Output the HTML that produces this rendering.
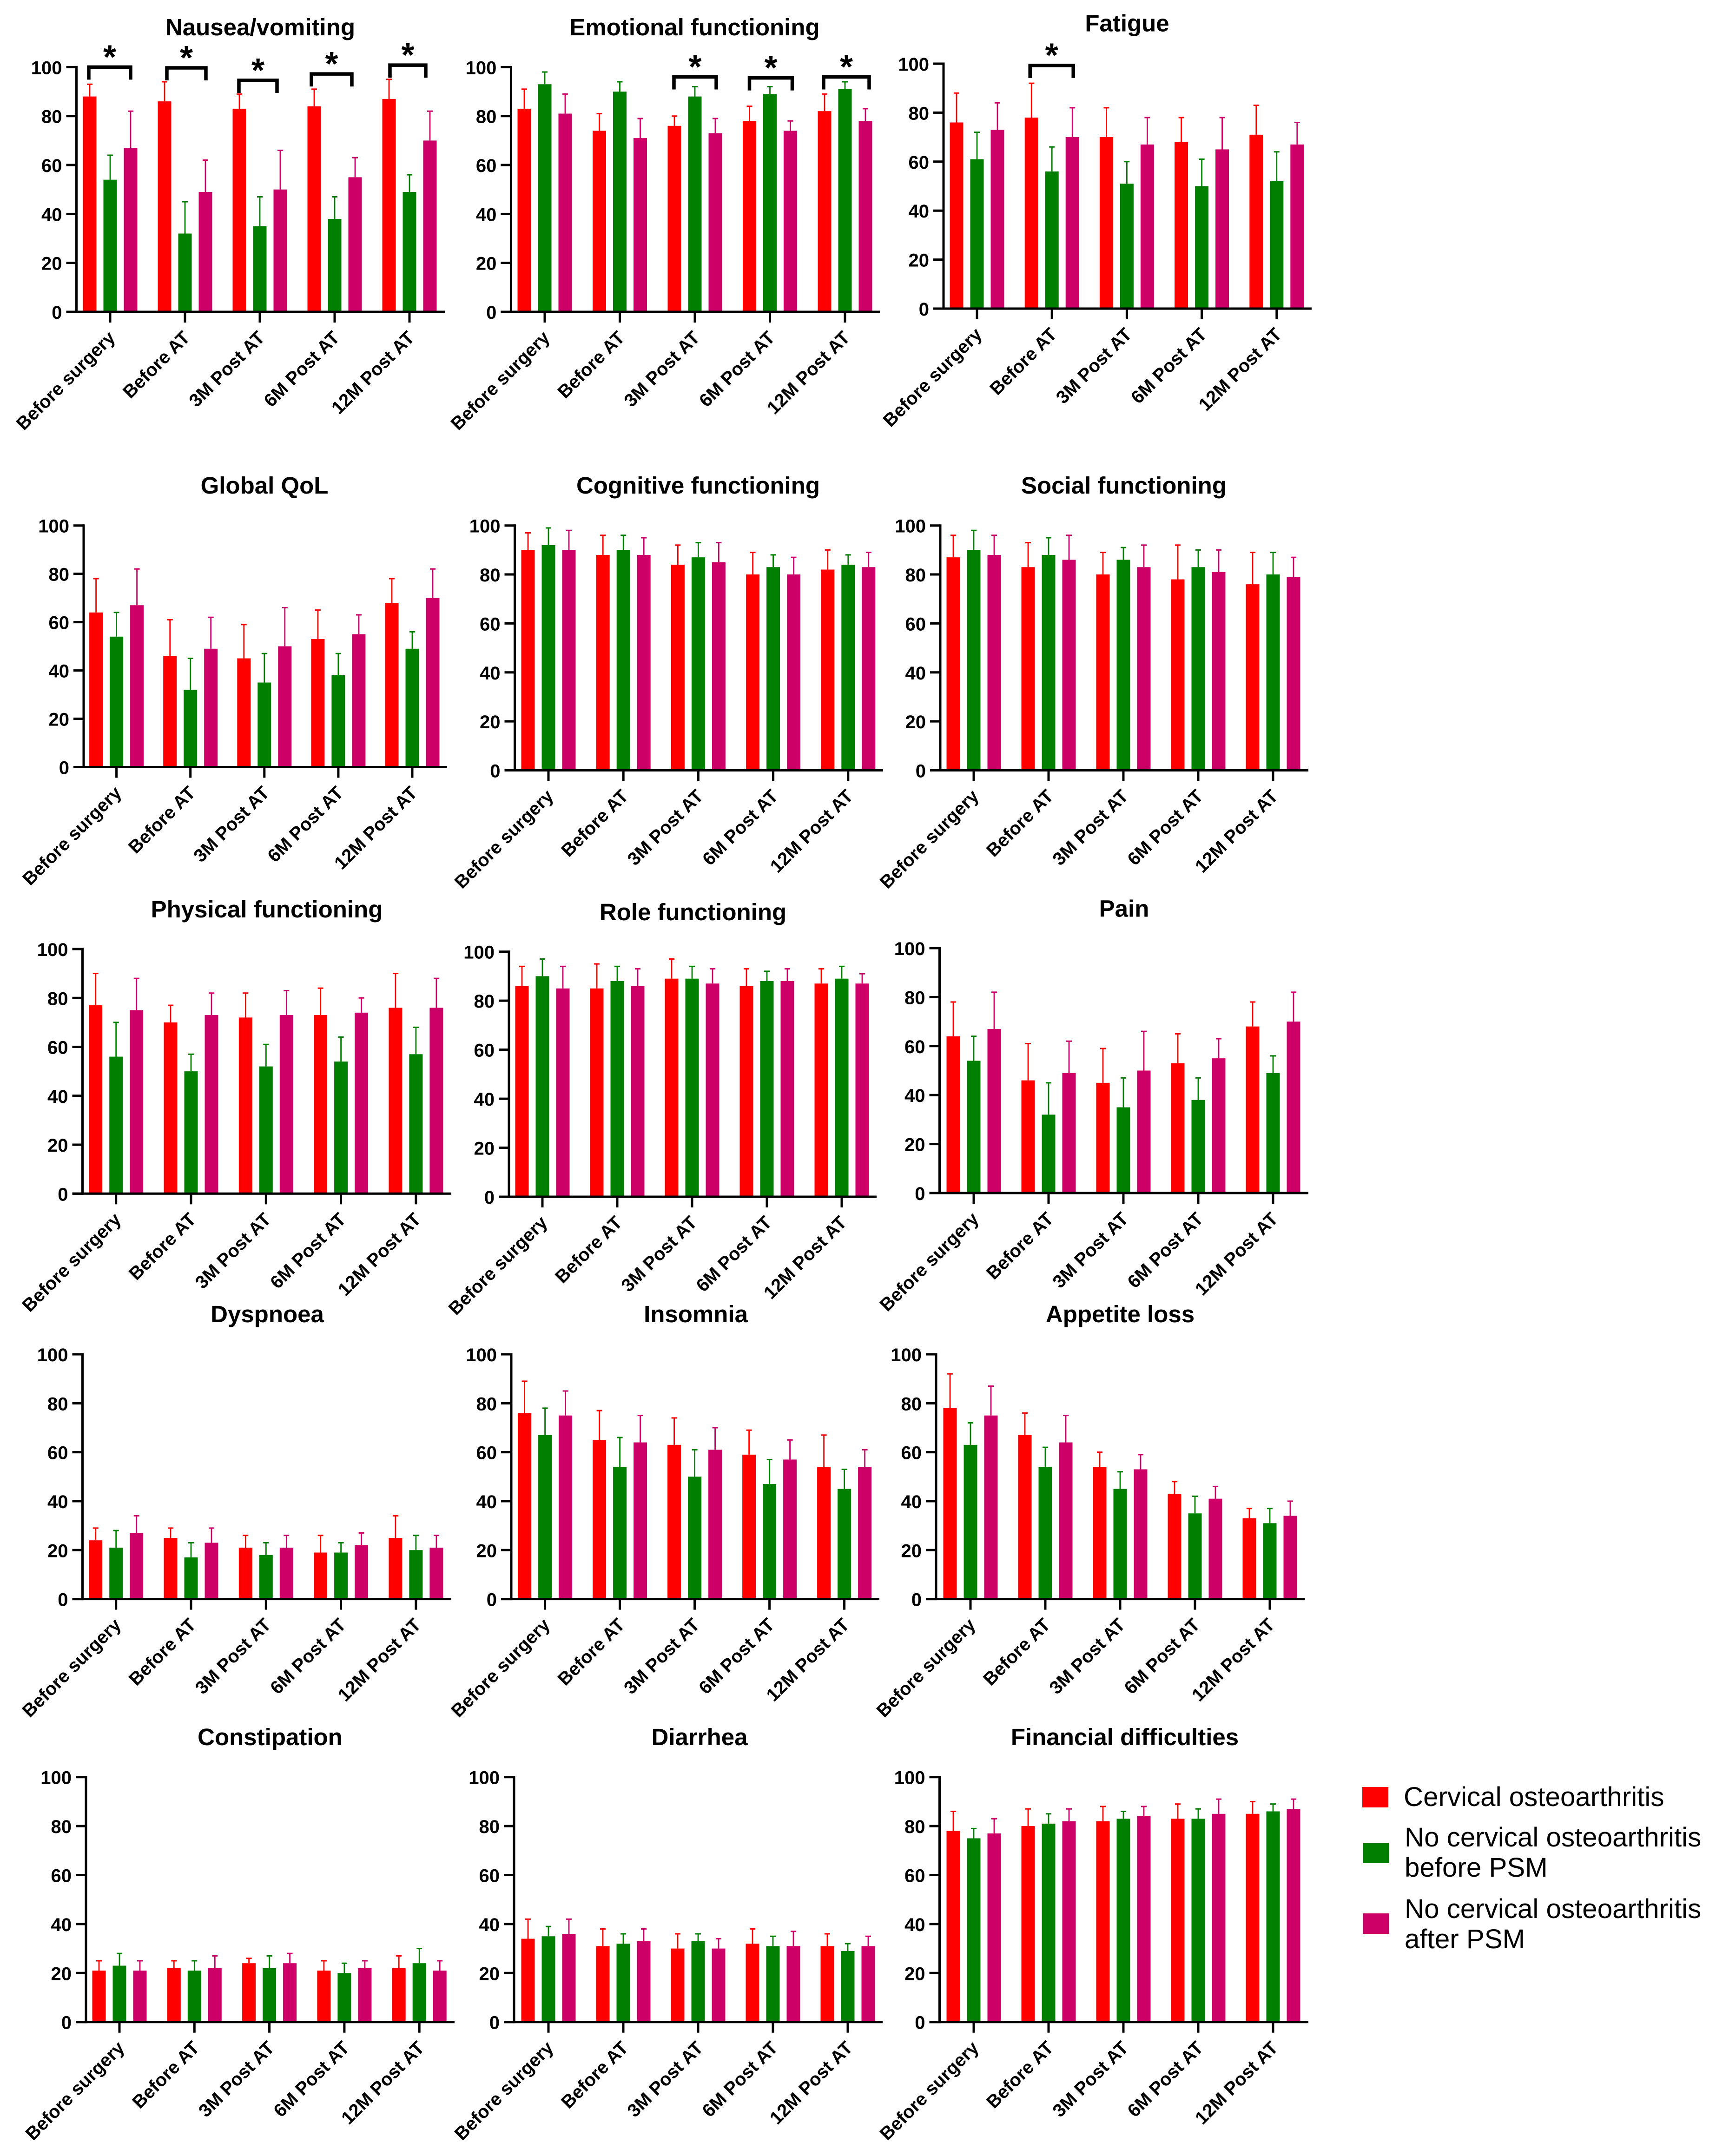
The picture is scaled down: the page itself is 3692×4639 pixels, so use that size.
<!DOCTYPE html>
<html lang="en">
<head>
<meta charset="utf-8">
<title>Quality of life scores by timepoint</title>
<style>
html,body{margin:0;padding:0;background:#fff;}
svg{display:block;}
text{font-family:"Liberation Sans",sans-serif;fill:#000;}
</style>
</head>
<body>
<svg id="figure" xmlns="http://www.w3.org/2000/svg" width="3692" height="4639" viewBox="0 0 3692 4639">
<rect x="0" y="0" width="3692" height="4639" fill="#ffffff"/>
<g>
<rect x="2931" y="3845" width="56" height="44" fill="#ff0000"/>
<text x="3020" y="3886" font-size="58.3">Cervical osteoarthritis</text>
<rect x="2932.5" y="3965" width="56" height="44" fill="#007f00"/>
<text x="3022" y="3973" font-size="58.3">No cervical osteoarthritis<tspan x="3022" y="4038">before PSM</tspan></text>
<rect x="2932.5" y="4117" width="56" height="44" fill="#cc0066"/>
<text x="3022" y="4127" font-size="58.3">No cervical osteoarthritis<tspan x="3022" y="4192">after PSM</tspan></text>
</g>
</svg>
<script>
const categories = ["Before surgery", "Before AT", "3M Post AT", "6M Post AT", "12M Post AT"];
const yTickValues = [0, 20, 40, 60, 80, 100];
const seriesColors = ["#ff0000", "#007f00", "#cc0066"];
const seriesKeys = ["cervical-oa", "no-oa-before-psm", "no-oa-after-psm"];

const nauseaCervical = [88, 86, 83, 84, 87];
const nauseaCervicalUpper = [93, 94, 89, 91, 95];
const nauseaBefore = [54, 32, 35, 38, 49];
const nauseaBeforeUpper = [64, 45, 47, 47, 56];
const nauseaAfter = [67, 49, 50, 55, 70];
const nauseaAfterUpper = [82, 62, 66, 63, 82];
const nauseaSigGroups = [0, 1, 2, 3, 4];
const nauseaSigLevels = [100, 99.7, 94.6, 97.2, 100.8];

const emotionalCervical = [83, 74, 76, 78, 82];
const emotionalCervicalUpper = [91, 81, 80, 84, 89];
const emotionalBefore = [93, 90, 88, 89, 91];
const emotionalBeforeUpper = [98, 94, 92, 92, 94];
const emotionalAfter = [81, 71, 73, 74, 78];
const emotionalAfterUpper = [89, 79, 79, 78, 83];
const emotionalSigGroups = [2, 3, 4];
const emotionalSigLevels = [96, 95.6, 96];

const fatigueCervical = [76, 78, 70, 68, 71];
const fatigueCervicalUpper = [88, 92, 82, 78, 83];
const fatigueBefore = [61, 56, 51, 50, 52];
const fatigueBeforeUpper = [72, 66, 60, 61, 64];
const fatigueAfter = [73, 70, 67, 65, 67];
const fatigueAfterUpper = [84, 82, 78, 78, 76];
const fatigueSigGroups = [1];
const fatigueSigLevels = [99.3];

const globalCervical = [64, 46, 45, 53, 68];
const globalCervicalUpper = [78, 61, 59, 65, 78];
const globalBefore = [54, 32, 35, 38, 49];
const globalBeforeUpper = [64, 45, 47, 47, 56];
const globalAfter = [67, 49, 50, 55, 70];
const globalAfterUpper = [82, 62, 66, 63, 82];

const cognitiveCervical = [90, 88, 84, 80, 82];
const cognitiveCervicalUpper = [97, 96, 92, 89, 90];
const cognitiveBefore = [92, 90, 87, 83, 84];
const cognitiveBeforeUpper = [99, 96, 93, 88, 88];
const cognitiveAfter = [90, 88, 85, 80, 83];
const cognitiveAfterUpper = [98, 95, 93, 87, 89];

const socialCervical = [87, 83, 80, 78, 76];
const socialCervicalUpper = [96, 93, 89, 92, 89];
const socialBefore = [90, 88, 86, 83, 80];
const socialBeforeUpper = [98, 95, 91, 90, 89];
const socialAfter = [88, 86, 83, 81, 79];
const socialAfterUpper = [96, 96, 92, 90, 87];

const physicalCervical = [77, 70, 72, 73, 76];
const physicalCervicalUpper = [90, 77, 82, 84, 90];
const physicalBefore = [56, 50, 52, 54, 57];
const physicalBeforeUpper = [70, 57, 61, 64, 68];
const physicalAfter = [75, 73, 73, 74, 76];
const physicalAfterUpper = [88, 82, 83, 80, 88];

const roleCervical = [86, 85, 89, 86, 87];
const roleCervicalUpper = [94, 95, 97, 93, 93];
const roleBefore = [90, 88, 89, 88, 89];
const roleBeforeUpper = [97, 94, 94, 92, 94];
const roleAfter = [85, 86, 87, 88, 87];
const roleAfterUpper = [94, 93, 93, 93, 91];

const painCervical = [64, 46, 45, 53, 68];
const painCervicalUpper = [78, 61, 59, 65, 78];
const painBefore = [54, 32, 35, 38, 49];
const painBeforeUpper = [64, 45, 47, 47, 56];
const painAfter = [67, 49, 50, 55, 70];
const painAfterUpper = [82, 62, 66, 63, 82];

const dyspnoeaCervical = [24, 25, 21, 19, 25];
const dyspnoeaCervicalUpper = [29, 29, 26, 26, 34];
const dyspnoeaBefore = [21, 17, 18, 19, 20];
const dyspnoeaBeforeUpper = [28, 23, 23, 23, 26];
const dyspnoeaAfter = [27, 23, 21, 22, 21];
const dyspnoeaAfterUpper = [34, 29, 26, 27, 26];

const insomniaCervical = [76, 65, 63, 59, 54];
const insomniaCervicalUpper = [89, 77, 74, 69, 67];
const insomniaBefore = [67, 54, 50, 47, 45];
const insomniaBeforeUpper = [78, 66, 61, 57, 53];
const insomniaAfter = [75, 64, 61, 57, 54];
const insomniaAfterUpper = [85, 75, 70, 65, 61];

const appetiteCervical = [78, 67, 54, 43, 33];
const appetiteCervicalUpper = [92, 76, 60, 48, 37];
const appetiteBefore = [63, 54, 45, 35, 31];
const appetiteBeforeUpper = [72, 62, 52, 42, 37];
const appetiteAfter = [75, 64, 53, 41, 34];
const appetiteAfterUpper = [87, 75, 59, 46, 40];

const constipationCervical = [21, 22, 24, 21, 22];
const constipationCervicalUpper = [25, 25, 26, 25, 27];
const constipationBefore = [23, 21, 22, 20, 24];
const constipationBeforeUpper = [28, 25, 27, 24, 30];
const constipationAfter = [21, 22, 24, 22, 21];
const constipationAfterUpper = [25, 27, 28, 25, 25];

const diarrheaCervical = [34, 31, 30, 32, 31];
const diarrheaCervicalUpper = [42, 38, 36, 38, 36];
const diarrheaBefore = [35, 32, 33, 31, 29];
const diarrheaBeforeUpper = [39, 36, 36, 35, 32];
const diarrheaAfter = [36, 33, 30, 31, 31];
const diarrheaAfterUpper = [42, 38, 34, 37, 35];

const financialCervical = [78, 80, 82, 83, 85];
const financialCervicalUpper = [86, 87, 88, 89, 90];
const financialBefore = [75, 81, 83, 83, 86];
const financialBeforeUpper = [79, 85, 86, 87, 89];
const financialAfter = [77, 82, 84, 85, 87];
const financialAfterUpper = [83, 87, 88, 91, 91];

// Panel frames (layout only); data comes from the arrays above.
const panels = [
  {key:"nausea-vomiting", title:"Nausea/vomiting", axisX:164.5, x0:237, step:161, endX:957, yTop:144.4, yBase:671, titleX:560, titleY:76,
   means:[nauseaCervical,nauseaBefore,nauseaAfter], uppers:[nauseaCervicalUpper,nauseaBeforeUpper,nauseaAfterUpper],
   sigGroups:nauseaSigGroups, sigLevels:nauseaSigLevels, sigReach:[[46,44],[39,45],[45,37],[50,37],[42,35]]},
  {key:"emotional-functioning", title:"Emotional functioning", axisX:1099.4, x0:1172, step:161.5, endX:1893, yTop:144.4, yBase:671, titleX:1494.5, titleY:76,
   means:[emotionalCervical,emotionalBefore,emotionalAfter], uppers:[emotionalCervicalUpper,emotionalBeforeUpper,emotionalAfterUpper],
   sigGroups:emotionalSigGroups, sigLevels:emotionalSigLevels, sigReach:[[45,46],[44,48],[46,52]]},
  {key:"fatigue", title:"Fatigue", axisX:2030, x0:2102, step:161.2, endX:2822, yTop:137, yBase:664, titleX:2425, titleY:67.5,
   means:[fatigueCervical,fatigueBefore,fatigueAfter], uppers:[fatigueCervicalUpper,fatigueBeforeUpper,fatigueAfterUpper],
   sigGroups:fatigueSigGroups, sigLevels:fatigueSigLevels, sigReach:[[47,46]]},
  {key:"global-qol", title:"Global QoL", axisX:180, x0:250.6, step:159.1, endX:962, yTop:1130.7, yBase:1650.5, titleX:569, titleY:1062,
   means:[globalCervical,globalBefore,globalAfter], uppers:[globalCervicalUpper,globalBeforeUpper,globalAfterUpper]},
  {key:"cognitive-functioning", title:"Cognitive functioning", axisX:1107.5, x0:1180, step:161.2, endX:1900, yTop:1130.7, yBase:1657.5, titleX:1502, titleY:1062,
   means:[cognitiveCervical,cognitiveBefore,cognitiveAfter], uppers:[cognitiveCervicalUpper,cognitiveBeforeUpper,cognitiveAfterUpper]},
  {key:"social-functioning", title:"Social functioning", axisX:2023, x0:2095, step:161, endX:2815, yTop:1130.7, yBase:1657.5, titleX:2418, titleY:1062,
   means:[socialCervical,socialBefore,socialAfter], uppers:[socialCervicalUpper,socialBeforeUpper,socialAfterUpper]},
  {key:"physical-functioning", title:"Physical functioning", axisX:177.5, x0:249.7, step:161.3, endX:971, yTop:2042, yBase:2568.3, titleX:574, titleY:1974,
   means:[physicalCervical,physicalBefore,physicalAfter], uppers:[physicalCervicalUpper,physicalBeforeUpper,physicalAfterUpper]},
  {key:"role-functioning", title:"Role functioning", axisX:1095, x0:1167, step:161, endX:1886, yTop:2047.7, yBase:2575, titleX:1491, titleY:1980,
   means:[roleCervical,roleBefore,roleAfter], uppers:[roleCervicalUpper,roleBeforeUpper,roleAfterUpper]},
  {key:"pain", title:"Pain", axisX:2021.5, x0:2095, step:161, endX:2815, yTop:2040, yBase:2567, titleX:2418.5, titleY:1972.5,
   means:[painCervical,painBefore,painAfter], uppers:[painCervicalUpper,painBeforeUpper,painAfterUpper]},
  {key:"dyspnoea", title:"Dyspnoea", axisX:177.5, x0:249.7, step:161.3, endX:971, yTop:2914, yBase:3440.6, titleX:575, titleY:2845,
   means:[dyspnoeaCervical,dyspnoeaBefore,dyspnoeaAfter], uppers:[dyspnoeaCervicalUpper,dyspnoeaBeforeUpper,dyspnoeaAfterUpper]},
  {key:"insomnia", title:"Insomnia", axisX:1100, x0:1172.6, step:161, endX:1892, yTop:2914, yBase:3440.6, titleX:1497, titleY:2845,
   means:[insomniaCervical,insomniaBefore,insomniaAfter], uppers:[insomniaCervicalUpper,insomniaBeforeUpper,insomniaAfterUpper]},
  {key:"appetite-loss", title:"Appetite loss", axisX:2014, x0:2088, step:161, endX:2807.5, yTop:2914, yBase:3440.6, titleX:2410, titleY:2845,
   means:[appetiteCervical,appetiteBefore,appetiteAfter], uppers:[appetiteCervicalUpper,appetiteBeforeUpper,appetiteAfterUpper]},
  {key:"constipation", title:"Constipation", axisX:185, x0:257, step:161.3, endX:978, yTop:3823.7, yBase:4350.7, titleX:581, titleY:3755,
   means:[constipationCervical,constipationBefore,constipationAfter], uppers:[constipationCervicalUpper,constipationBeforeUpper,constipationAfterUpper]},
  {key:"diarrhea", title:"Diarrhea", axisX:1106, x0:1180, step:161, endX:1899, yTop:3823.7, yBase:4350.7, titleX:1505, titleY:3755,
   means:[diarrheaCervical,diarrheaBefore,diarrheaAfter], uppers:[diarrheaCervicalUpper,diarrheaBeforeUpper,diarrheaAfterUpper]},
  {key:"financial-difficulties", title:"Financial difficulties", axisX:2021.5, x0:2095, step:161, endX:2815, yTop:3823.7, yBase:4350.7, titleX:2420, titleY:3755,
   means:[financialCervical,financialBefore,financialAfter], uppers:[financialCervicalUpper,financialBeforeUpper,financialAfterUpper]}
];

const SVG_NS = "http://www.w3.org/2000/svg";
const figure = document.getElementById("figure");
const BAR_WIDTH = 29, BAR_GAP = 44, CAP_HALF = 6, TICK_LEN = 22, AXIS_W = 5;

function make(tag, parent, attrs, txt) {
  const node = document.createElementNS(SVG_NS, tag);
  for (const k in attrs) node.setAttribute(k, attrs[k]);
  if (txt !== undefined) node.textContent = txt;
  parent.appendChild(node);
  return node;
}

panels.forEach(function (p) {
  const yScale = function (v) { return p.yBase - (v / 100) * (p.yBase - p.yTop); };
  const xScale = function (i) { return p.x0 + i * p.step; };

  const g = make("g", figure, {});
  
  

  const title = make("text", g, {x:p.titleX, y:p.titleY, "text-anchor":"middle", "font-size":51, "font-weight":"bold"}, p.title);
  
  

  p.means.forEach(function (series, s) {
    series.forEach(function (value, i) {
      const cx = xScale(i) + (s - 1) * BAR_GAP;
      const top = yScale(value);
      const upper = yScale(p.uppers[s][i]);
      const bar = make("rect", g, {x:cx - BAR_WIDTH / 2, y:top, width:BAR_WIDTH, height:p.yBase - top, fill:seriesColors[s]});
      
      
      const stem = make("line", g, {x1:cx, x2:cx, y1:top, y2:upper, stroke:seriesColors[s], "stroke-width":2.8});
      
      
      const cap = make("line", g, {x1:cx - CAP_HALF, x2:cx + CAP_HALF, y1:upper, y2:upper, stroke:seriesColors[s], "stroke-width":3});
      
      
    });
  });

  const yAxis = make("line", g, {x1:p.axisX, x2:p.axisX, y1:p.yTop - AXIS_W / 2, y2:p.yBase + AXIS_W / 2, stroke:"#000", "stroke-width":AXIS_W});
  
  
  const xAxis = make("line", g, {x1:p.axisX - TICK_LEN, x2:p.endX, y1:p.yBase, y2:p.yBase, stroke:"#000", "stroke-width":AXIS_W});
  
  

  yTickValues.forEach(function (v) {
    const y = yScale(v);
    const tick = make("line", g, {x1:p.axisX - TICK_LEN, x2:p.axisX, y1:y, y2:y, stroke:"#000", "stroke-width":AXIS_W});
    
    
    const label = make("text", g, {x:p.axisX - TICK_LEN - 9, y:y + 15, "text-anchor":"end", "font-size":40, "font-weight":"bold"}, String(v));
    
    
  });

  categories.forEach(function (name, i) {
    const x = xScale(i);
    const tick = make("line", g, {x1:x, x2:x, y1:p.yBase, y2:p.yBase + TICK_LEN + 1, stroke:"#000", "stroke-width":AXIS_W});
    
    
    const lx = x + 13, ly = p.yBase + 58;
    const label = make("text", g, {x:lx, y:ly, "text-anchor":"end", "font-size":39.5, "font-weight":"bold", transform:"rotate(-45 " + lx + " " + ly + ")"}, name);
    
    
  });

  if (p.sigGroups) {
    p.sigGroups.forEach(function (group, b) {
      const x = xScale(group);
      const y = yScale(p.sigLevels[b]);
      const left = x - p.sigReach[b][0], right = x + p.sigReach[b][1];
      const bracket = make("path", g, {d:"M" + left + " " + (y + 27) + "V" + y + "H" + right + "V" + (y + 27), fill:"none", stroke:"#000", "stroke-width":7.5});
      
      
      const star = make("text", g, {x:(left + right) / 2, y:y + 3, "text-anchor":"middle", "font-size":72, "font-weight":"bold"}, "*");
      
      
    });
  }
});
</script>
</body>
</html>
